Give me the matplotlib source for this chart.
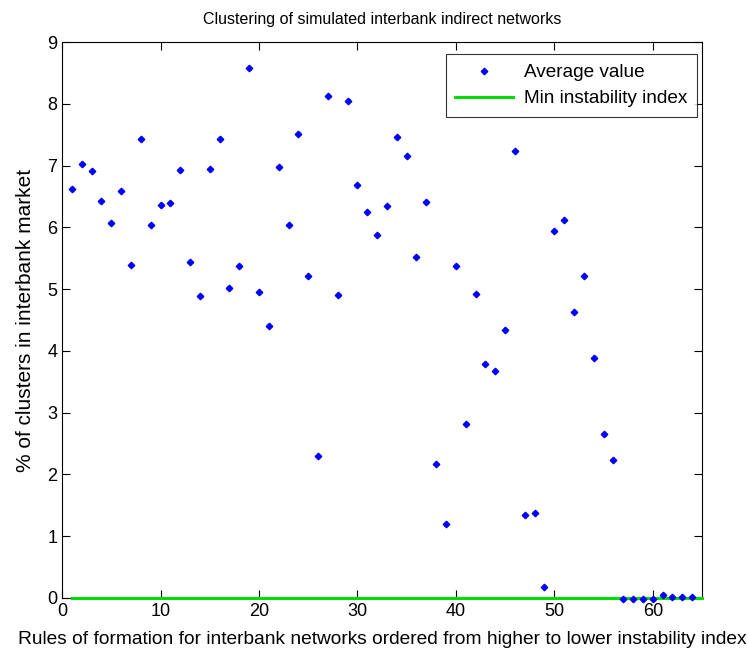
import numpy as np
import matplotlib
matplotlib.use("Agg")
import matplotlib.pyplot as plt

plt.rcParams["font.family"] = ["Liberation Sans", "DejaVu Sans"]
plt.rcParams.update({"font.size": 11})

rules = np.arange(1, 65)
avg_value = [6.62, 7.02, 6.91, 6.43, 6.08, 6.59, 5.40, 7.43, 6.04, 6.37,
             6.39, 6.93, 5.44, 4.89, 6.95, 7.43, 5.02, 5.38, 8.58, 4.96,
             4.41, 6.98, 6.04, 7.52, 5.22, 2.30, 8.13, 4.91, 8.05, 6.69,
             6.25, 5.88, 6.34, 7.46, 7.15, 5.53, 6.41, 2.17, 1.19, 5.38,
             2.81, 4.92, 3.79, 3.67, 4.34, 7.24, 1.34, 1.38, 0.18, 5.95,
             6.12, 4.63, 5.22, 3.88, 2.65, 2.24, -0.02, -0.02, -0.02, -0.02,
             0.05, 0.02, 0.02, 0.02]
rules_min = np.arange(1, 66)
min_index = np.zeros(len(rules_min))

fig = plt.figure(figsize=(7.48, 6.6), dpi=100)
ax = fig.add_axes([0.083, 0.094, 0.8555, 0.842])
ax.plot(rules_min, min_index, '-', color='#00dd00', linewidth=2.2,
        label='Min instability index', zorder=2.6, clip_on=False)
ax.plot(rules, avg_value, 'D', color='b', markersize=3.3, label='Average value',
        clip_on=False, zorder=3)
ax.set_xlim(0, 65)
ax.set_ylim(0, 9)
ax.set_xticks(range(0, 61, 10))
ax.set_yticks(range(0, 10))
ax.tick_params(direction='in', top=True, right=True, length=6, labelsize=13)
ax.set_title("Clustering of simulated interbank indirect networks", fontsize=11.5, pad=13)
ax.set_xlabel("Rules of formation for interbank networks ordered from higher to lower instability index",
              fontsize=13.8, labelpad=8)
ax.set_ylabel("% of clusters in interbank market", fontsize=15, labelpad=9)
handles, labels = ax.get_legend_handles_labels()
leg = ax.legend(handles[::-1], labels[::-1], loc='upper right',
                bbox_to_anchor=(0.992, 0.978), borderaxespad=0,
                fancybox=False, edgecolor='k', fontsize=13.7,
                handlelength=3.0, handletextpad=0.6, borderpad=0.5, labelspacing=0.45)
leg.get_frame().set_linewidth(0.8)
plt.savefig("out.png", dpi=100)
